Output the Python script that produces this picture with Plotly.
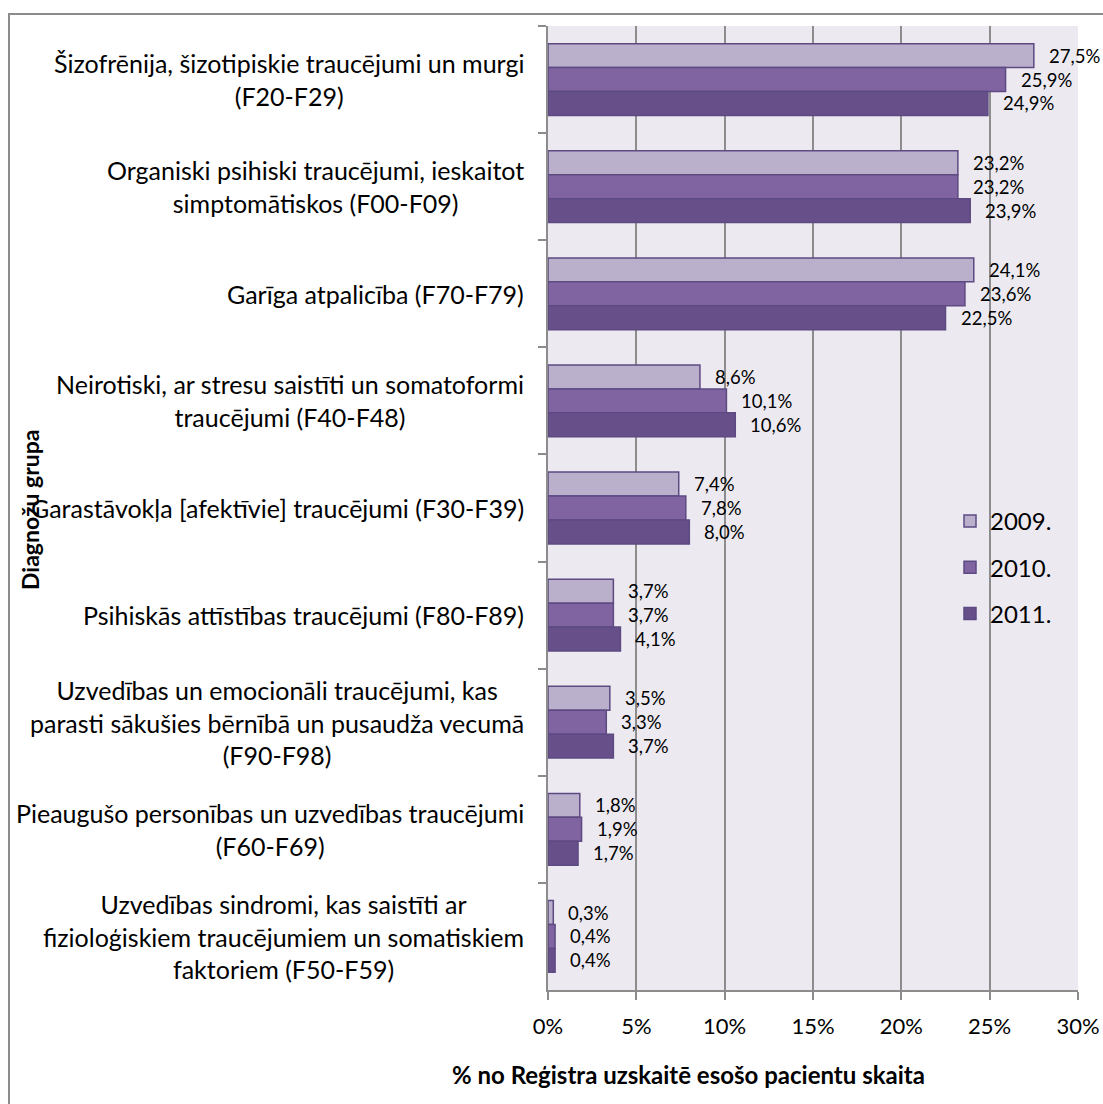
import plotly.graph_objects as go

# Diagnosis groups (top to bottom) and share of registered patients, %
categories = [
    "Šizofrēnija, šizotipiskie traucējumi un murgi<br>(F20-F29)",
    "Organiski psihiski traucējumi, ieskaitot<br>simptomātiskos (F00-F09)",
    "Garīga atpalicība (F70-F79)",
    "Neirotiski, ar stresu saistīti un somatoformi<br>traucējumi (F40-F48)",
    "Garastāvokļa [afektīvie] traucējumi (F30-F39)",
    "Psihiskās attīstības traucējumi (F80-F89)",
    "Uzvedības un emocionāli traucējumi, kas<br>parasti sākušies bērnībā un pusaudža vecumā<br>(F90-F98)",
    "Pieaugušo personības un uzvedības traucējumi<br>(F60-F69)",
    "Uzvedības sindromi, kas saistīti ar<br>fizioloģiskiem traucējumiem un somatiskiem<br>faktoriem (F50-F59)",
]
years = ["2009.", "2010.", "2011."]
values_2009 = [27.5, 23.2, 24.1, 8.6, 7.4, 3.7, 3.5, 1.8, 0.3]
values_2010 = [25.9, 23.2, 23.6, 10.1, 7.8, 3.7, 3.3, 1.9, 0.4]
values_2011 = [24.9, 23.9, 22.5, 10.6, 8.0, 4.1, 3.7, 1.7, 0.4]
x_ticks = [0, 5, 10, 15, 20, 25, 30]
x_tick_labels = ["0%", "5%", "10%", "15%", "20%", "25%", "30%"]

series = [values_2009, values_2010, values_2011]
fills = ["#BBB0CC", "#8064A2", "#67508A"]
outline = "#5E4A82"
FONT = "Lato"

W, H = 1103, 1104
ML, MR, MT, MB = 548, 25, 26, 114
plot_w = W - ML - MR
plot_h = H - MT - MB

fig = go.Figure()
for name, vals, col in zip(years, series, fills):
    fig.add_trace(go.Bar(
        name=name, y=categories, x=vals, orientation="h",
        marker=dict(color=col, line=dict(color=outline, width=1.5)),
        legendgroup=name, hoverinfo="skip",
    ))

# value labels next to each bar end
bargap = 0.33
bar_w = (1 - bargap) / len(series)
annotations = []
for i, vals in enumerate(series):
    off = (i - (len(series) - 1) / 2) * bar_w
    for j, v in enumerate(vals):
        annotations.append(dict(
            x=v, y=j + off, xref="x", yref="y",
            text=f"{v:.1f}".replace(".", ",") + "%",
            showarrow=False, xanchor="left", yanchor="middle", xshift=13,
            font=dict(family=FONT, size=18.5, color="#000000"),
        ))

# category labels, centred line by line
for c in categories:
    annotations.append(dict(
        x=0, y=c, xref="paper", yref="y", text=c, showarrow=False,
        xanchor="right", yanchor="middle", align="center", xshift=-22,
        font=dict(family=FONT, size=25, color="#000000"),
    ))

# axis titles
annotations.append(dict(
    x=(30 - ML) / plot_w, y=(H - MB - 510) / plot_h, xref="paper", yref="paper",
    text="<b>Diagnožu grupa</b>", textangle=-90, showarrow=False,
    xanchor="center", yanchor="middle",
    font=dict(family=FONT, size=23, color="#000000"),
))
annotations.append(dict(
    x=(688 - ML) / plot_w, y=(H - MB - 1074) / plot_h, xref="paper", yref="paper",
    text="<b>% no Reģistra uzskaitē esošo pacientu skaita</b>", showarrow=False,
    xanchor="center", yanchor="middle",
    font=dict(family=FONT, size=24, color="#000000"),
))

# outer chart frame
shapes = [dict(
    type="rect", xref="paper", yref="paper",
    x0=(9 - ML) / plot_w, x1=(W + 10 - ML) / plot_w,
    y0=(H - MB - (H + 10)) / plot_h, y1=(H - MB - 14) / plot_h,
    line=dict(color="#8C8C8C", width=2), fillcolor="rgba(0,0,0,0)", layer="below",
)]

fig.update_layout(
    width=W, height=H,
    margin=dict(l=ML, r=MR, t=MT, b=MB, autoexpand=False),
    paper_bgcolor="#FFFFFF", plot_bgcolor="#ECEAF0",
    barmode="group", bargap=bargap, bargroupgap=0,
    font=dict(family=FONT, size=20, color="#000000"),
    annotations=annotations, shapes=shapes,
    legend=dict(
        x=(950 - ML) / plot_w, y=(H - MB - 499) / plot_h,
        xanchor="left", yanchor="top",
        bgcolor="rgba(0,0,0,0)", tracegroupgap=12,
        font=dict(family=FONT, size=24, color="#000000"),
    ),
    xaxis=dict(
        range=[0, 30], tickmode="array", tickvals=x_ticks, ticktext=x_tick_labels,
        showgrid=True, gridcolor="#8C8C8C", gridwidth=1.5,
        zeroline=False, showline=True, linecolor="#8C8C8C", linewidth=1.5,
        ticks="outside", ticklen=8, tickcolor="#8C8C8C", tickwidth=1.5,
        ticklabelstandoff=8, automargin=False,
        tickfont=dict(family=FONT, size=22), fixedrange=True,
    ),
    yaxis=dict(
        autorange="reversed", showticklabels=False,
        showline=True, linecolor="#8C8C8C", linewidth=1.5,
        ticks="outside", ticklen=8, tickcolor="#8C8C8C", tickwidth=1.5,
        tickson="boundaries", showgrid=False, fixedrange=True, automargin=False,
    ),
)

fig.write_html("out.html")
